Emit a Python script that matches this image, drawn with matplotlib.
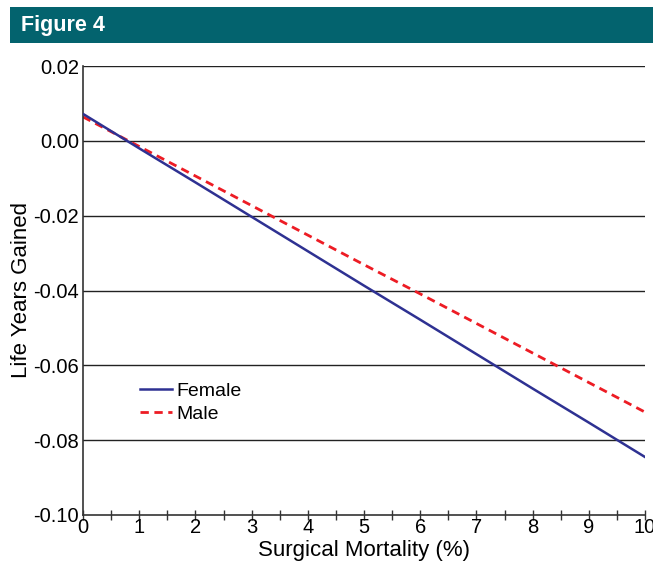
import matplotlib
matplotlib.use("Agg")
import matplotlib.pyplot as plt
from matplotlib.patches import Rectangle
from matplotlib.ticker import MultipleLocator

plt.rcParams['font.family'] = ['Liberation Sans', 'DejaVu Sans']

# values
mortality = [0, 1, 2, 3, 4, 5, 6, 7, 8, 9, 10]
female = [0.0072, -0.0020, -0.0111, -0.0203, -0.0295, -0.0387,
          -0.0478, -0.0570, -0.0662, -0.0753, -0.0845]
male = [0.0064, -0.0015, -0.0094, -0.0173, -0.0252, -0.0331,
        -0.0409, -0.0488, -0.0567, -0.0646, -0.0725]
yticks = [-0.10, -0.08, -0.06, -0.04, -0.02, 0.00, 0.02]

fig = plt.figure(figsize=(6.53, 5.66), dpi=100)

# teal header bar
fig.patches.append(Rectangle((10/653, 1-43/566), 1, 36/566, transform=fig.transFigure,
                             facecolor='#03636e', edgecolor='none'))
fig.text(21/653, 1-26/566, 'Figure 4', color='white', fontsize=15.5, fontweight='bold',
         family=['Liberation Sans Narrow', 'DejaVu Sans Condensed', 'Liberation Sans'],
         va='center', ha='left')

ax = fig.add_axes([83/653, 51/566, 562/653, 449/566])

for y in yticks[1:]:
    ax.axhline(y, color='#222222', lw=1, zorder=1)

ax.plot(mortality, female, color='#2e3192', lw=1.8, label='Female', zorder=3)
ax.plot(mortality, male, color='#ed1c24', lw=2, dashes=(3, 2), label='Male', zorder=2)

ax.set_xlim(0, 10)
ax.set_ylim(-0.10, 0.02)
ax.set_yticks(yticks)
ax.set_yticklabels(['%.2f' % v for v in yticks])
ax.xaxis.set_major_locator(MultipleLocator(1))
ax.xaxis.set_minor_locator(MultipleLocator(0.5))

ax.spines['top'].set_visible(False)
ax.spines['right'].set_visible(False)
for s in ['left', 'bottom']:
    ax.spines[s].set_color('#333333')
    ax.spines[s].set_linewidth(1.2)

ax.tick_params(axis='x', which='both', direction='inout', length=7, width=1, color='#333333',
               labelsize=14.5, pad=-1)
ax.tick_params(axis='y', length=0, labelsize=14.5, pad=3)

ax.set_xlabel('Surgical Mortality (%)', fontsize=16, labelpad=2)
ax.set_ylabel('Life Years Gained', fontsize=16, labelpad=1)

ax.legend(loc='lower left', bbox_to_anchor=(0.085, 0.183), frameon=False, fontsize=14,
          handlelength=1.6, handletextpad=0.25, labelspacing=0.3, borderpad=0)

fig.savefig('out.png', dpi=100)
